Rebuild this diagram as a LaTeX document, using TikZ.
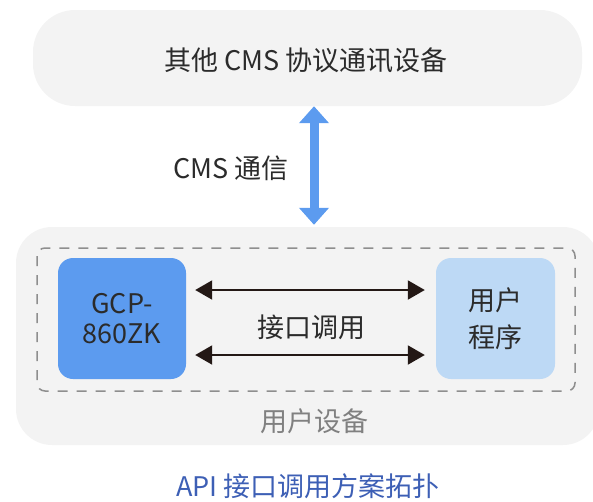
\documentclass[tikz,border=0pt]{standalone}
\usepackage{fontspec}
\setmainfont{Noto Sans CJK SC}
\usepackage{xcolor}
\usetikzlibrary{arrows.meta}
\definecolor{panelgray}{HTML}{F3F3F3}
\definecolor{dashgray}{HTML}{8E8E8E}
\definecolor{chipblue}{HTML}{5C9BEF}
\definecolor{progblue}{HTML}{BDD9F5}
\definecolor{inkdark}{HTML}{231815}
\definecolor{textdark}{HTML}{2B2B2B}
\definecolor{captionblue}{HTML}{3D5FB5}
\tikzset{
	panel/.style={fill=panelgray, inner sep=0pt, rounded corners=#1},
	unit/.style={inner sep=0pt, align=center, text=textdark, rounded corners=15pt,
		minimum height=121pt},
	api/.style={{Triangle[width=19pt,length=17pt]}-{Triangle[width=19pt,length=17pt]},
		line width=2pt, draw=inkdark},
	cms/.style={{Triangle[width=29pt,length=17pt]}-{Triangle[width=29pt,length=17pt]},
		line width=9pt, draw=chipblue},
}

\begin{document}
\begin{tikzpicture}[x=1pt, y=-1pt, font=\fontsize{27}{30}\selectfont]
		\useasboundingbox (0,0) rectangle (593,501);
		\clip (0,0) rectangle (593,501);
		% outer panels
		\node[panel=42pt, minimum width=549pt, minimum height=96pt] (other) at (307.5,58) {};
		\node[text=textdark] at (306,60) {其他 CMS 协议通讯设备};
		\node[panel=36pt, minimum width=583pt, minimum height=218pt] (device) at (307.5,336) {};
		\draw[dashgray, line width=1.5pt, dash pattern=on 10pt off 9pt, rounded corners=8pt]
			(37,248) rectangle (575,391);
		% inner units
		\node[unit, fill=chipblue, minimum width=128pt] (gcp) at (122,318.5) {GCP-\\860ZK};
		\node[unit, fill=progblue, minimum width=119pt,
			font=\fontsize{27}{37}\selectfont] (prog) at (495.5,318.5) {用户\\程序};
		% connectors
		\draw[api, shorten <=9pt, shorten >=11pt] ([yshift=28.5pt]gcp.east) -- ([yshift=28.5pt]prog.west);
		\draw[api, shorten <=9pt, shorten >=11pt] ([yshift=-36.5pt]gcp.east) -- ([yshift=-36.5pt]prog.west);
		\draw[cms, shorten >=2pt] ([xshift=6.5pt]other.south) -- ([xshift=6.5pt]device.north);
		% labels
		\node[text=textdark] (cmslabel) at (231,168) {CMS 通信};
		\node[text=textdark] (apilabel) at (311,327) {接口调用};
		\node[text=gray] (devlabel) at (314,421) {用户设备};
		\node[text=captionblue] (caption) at (308,486) {API 接口调用方案拓扑};
	\end{tikzpicture}
\end{document}
